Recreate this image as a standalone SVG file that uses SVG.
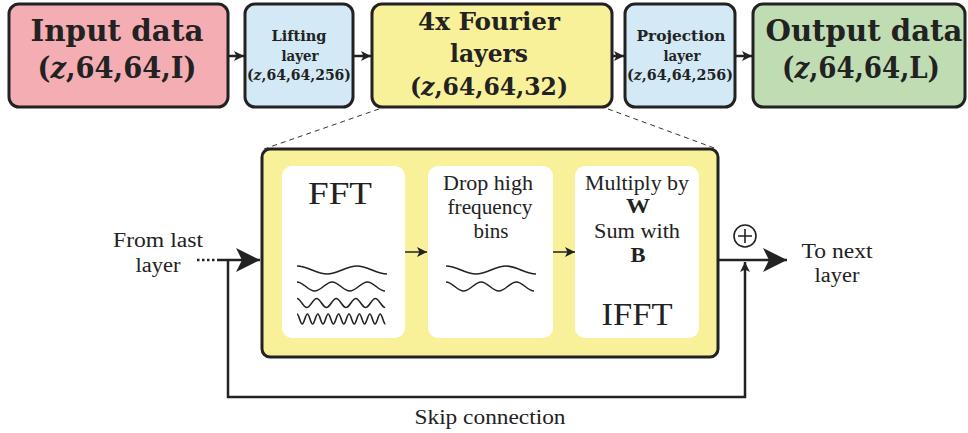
<svg xmlns="http://www.w3.org/2000/svg" width="968" height="433" viewBox="0 0 968 433">
  <style>
    .box { stroke: #222; stroke-width: 3; }
    .inner { fill: #ffffff; }
    .bold { font-family: "DejaVu Serif", "Liberation Serif", serif; font-weight: bold; fill: #222; text-anchor: middle; }
    .reg { font-family: "Liberation Serif", "DejaVu Serif", serif; fill: #222; text-anchor: middle; font-size: 20px; }
    .reg.big { font-size: 31.5px; }
    .reg.strong { font-weight: bold; }
    .wave { fill: none; stroke: #222; stroke-width: 1.6; }
    .link { fill: none; stroke: #222; stroke-width: 2.5; }
    .thin { fill: none; stroke: #222; stroke-width: 1.5; }
    .dash { fill: none; stroke: #333; stroke-width: 1; stroke-dasharray: 5 4; }
  </style>
  <defs>
    <marker id="headBig" viewBox="0 0 24 24" refX="24" refY="12" markerWidth="24" markerHeight="24" markerUnits="userSpaceOnUse" orient="auto">
      <path d="M0,0 L24,12 L0,24 L6,12 Z" fill="#222"/>
    </marker>
    <marker id="headSmall" viewBox="0 0 10 10" refX="10" refY="5" markerWidth="10" markerHeight="10" markerUnits="userSpaceOnUse" orient="auto">
      <path d="M0,0 L10,5 L0,10 L2.5,5 Z" fill="#222"/>
    </marker>
    <path id="w1" class="wave" d="M297,266 C307.9,266 316.1,274 327,274 S346.1,266 357,266 S376.1,274 387,274"/>
    <path id="w2" class="wave" d="M297,282 C303.41,282 308.19,291 314.6,291 S325.79,282 332.2,282 S343.39,291 349.8,291 S360.99,282 367.4,282 S378.59,291 385,291"/>
  </defs>

  <!-- pipeline stages -->
  <g id="input-data">
    <rect class="box" x="9" y="4" width="219" height="103" rx="10" fill="#f4adb3"/>
    <text class="bold" x="117" y="41" font-size="29" textLength="173" lengthAdjust="spacingAndGlyphs">Input data</text>
    <text class="bold" x="117" y="78" font-size="29" textLength="159" lengthAdjust="spacingAndGlyphs">(<tspan font-style="italic">z</tspan>,64,64,I)</text>
  </g>
  <g id="lifting-layer">
    <rect class="box" x="245" y="4" width="108" height="103" rx="10" fill="#d3e9f6"/>
    <text class="bold" x="299" y="41" font-size="14.5" textLength="55" lengthAdjust="spacingAndGlyphs">Lifting</text>
    <text class="bold" x="300" y="61" font-size="15" textLength="37" lengthAdjust="spacingAndGlyphs">layer</text>
    <text class="bold" x="299" y="80" font-size="14" textLength="104" lengthAdjust="spacingAndGlyphs">(<tspan font-style="italic">z</tspan>,64,64,256)</text>
  </g>
  <g id="fourier-layers">
    <rect class="box" x="372" y="4" width="240" height="103" rx="10" fill="#f9f19a"/>
    <text class="bold" x="489" y="30" font-size="25" textLength="142" lengthAdjust="spacingAndGlyphs">4x Fourier</text>
    <text class="bold" x="489" y="62" font-size="25" textLength="78" lengthAdjust="spacingAndGlyphs">layers</text>
    <text class="bold" x="489" y="95" font-size="25" textLength="158" lengthAdjust="spacingAndGlyphs">(<tspan font-style="italic">z</tspan>,64,64,32)</text>
  </g>
  <g id="projection-layer">
    <rect class="box" x="625" y="4" width="110" height="103" rx="10" fill="#d3e9f6"/>
    <text class="bold" x="681" y="41" font-size="14.5" textLength="89" lengthAdjust="spacingAndGlyphs">Projection</text>
    <text class="bold" x="682" y="61" font-size="15" textLength="37" lengthAdjust="spacingAndGlyphs">layer</text>
    <text class="bold" x="680" y="80" font-size="14" textLength="106" lengthAdjust="spacingAndGlyphs">(<tspan font-style="italic">z</tspan>,64,64,256)</text>
  </g>
  <g id="output-data">
    <rect class="box" x="753" y="4" width="212" height="103" rx="10" fill="#c0dcb2"/>
    <text class="bold" x="864" y="41" font-size="29" textLength="197" lengthAdjust="spacingAndGlyphs">Output data</text>
    <text class="bold" x="861" y="78" font-size="29" textLength="158" lengthAdjust="spacingAndGlyphs">(<tspan font-style="italic">z</tspan>,64,64,L)</text>
  </g>

  <!-- expanded view of one Fourier layer -->
  <g id="fourier-layer-detail">
    <rect class="box" x="262" y="149" width="456" height="208" rx="8" fill="#f9f19a"/>
  </g>
  <g id="fft">
    <rect class="inner" x="282" y="166" width="123" height="172" rx="10"/>
    <text class="reg big" x="340" y="204" textLength="64" lengthAdjust="spacingAndGlyphs">FFT</text>
    <use href="#w1"/>
    <use href="#w2"/>
    <path class="wave" d="M297,298.5 C300.57,298.5 303.03,307.5 306.8,307.5 S313.03,298.5 316.6,298.5 S322.83,307.5 326.4,307.5 S332.63,298.5 336.2,298.5 S342.43,307.5 346,307.5 S352.23,298.5 355.8,298.5 S362.03,307.5 365.6,307.5 S371.83,298.5 375.4,298.5 S381.63,307.5 385.2,307.5"/>
    <path class="wave" d="M297,314 C298.89,314 300.31,324 302.2,324 S305.51,314 307.4,314 S310.71,324 312.6,324 S315.91,314 317.8,314 S321.11,324 323,324 S326.31,314 328.2,314 S331.51,324 333.4,324 S336.71,314 338.6,314 S341.91,324 343.8,324 S347.11,314 349,314 S352.31,324 354.2,324 S357.51,314 359.4,314 S362.71,324 364.6,324 S367.91,314 369.8,314 S373.11,324 375,324 S378.31,314 380.2,314 S383.51,324 385.4,324"/>
  </g>
  <g id="drop-bins">
    <rect class="inner" x="428" y="166" width="125" height="172" rx="10"/>
    <text class="reg" x="488" y="190" textLength="90" lengthAdjust="spacingAndGlyphs">Drop high</text>
    <text class="reg" x="490" y="214" textLength="85" lengthAdjust="spacingAndGlyphs">frequency</text>
    <text class="reg" x="491" y="238" textLength="35" lengthAdjust="spacingAndGlyphs">bins</text>
    <use href="#w1" transform="translate(149,0)"/>
    <use href="#w2" transform="translate(149,0)"/>
  </g>
  <g id="multiply-ifft">
    <rect class="inner" x="575" y="166" width="124" height="172" rx="10"/>
    <text class="reg" x="637" y="190" textLength="104" lengthAdjust="spacingAndGlyphs">Multiply by</text>
    <text class="reg strong" x="638" y="213" textLength="24" lengthAdjust="spacingAndGlyphs">W</text>
    <text class="reg" x="637" y="238" textLength="86" lengthAdjust="spacingAndGlyphs">Sum with</text>
    <text class="reg strong" x="638" y="262" textLength="15" lengthAdjust="spacingAndGlyphs">B</text>
    <text class="reg big" x="637" y="325" textLength="71" lengthAdjust="spacingAndGlyphs">IFFT</text>
  </g>
  <g id="sum-node">
    <circle cx="745" cy="236" r="11" fill="none" stroke="#222" stroke-width="1.6"/>
    <path d="M738,236 H752 M745,229 V243" stroke="#222" stroke-width="1.6" fill="none"/>
  </g>

  <!-- free labels -->
  <g id="labels">
    <text class="reg" x="158" y="247" textLength="90" lengthAdjust="spacingAndGlyphs">From last</text>
    <text class="reg" x="158" y="272" textLength="45" lengthAdjust="spacingAndGlyphs">layer</text>
    <text class="reg" x="837" y="258" textLength="71" lengthAdjust="spacingAndGlyphs">To next</text>
    <text class="reg" x="837" y="282" textLength="45" lengthAdjust="spacingAndGlyphs">layer</text>
    <text class="reg" x="490" y="424" textLength="151" lengthAdjust="spacingAndGlyphs">Skip connection</text>
  </g>

  <g id="connectors">
    <!-- top pipeline -->
    <line class="link" x1="229" y1="56" x2="244" y2="56" marker-end="url(#headSmall)"/>
    <line class="link" x1="354" y1="56" x2="371" y2="56" marker-end="url(#headSmall)"/>
    <line class="link" x1="613" y1="56" x2="624" y2="56" marker-end="url(#headSmall)"/>
    <line class="link" x1="736" y1="56" x2="752" y2="56" marker-end="url(#headSmall)"/>
    <!-- zoom guides -->
    <line class="dash" x1="379" y1="109" x2="264" y2="149"/>
    <line class="dash" x1="608" y1="109" x2="717" y2="149"/>
    <!-- inside the layer -->
    <line class="thin" x1="405" y1="252" x2="427" y2="252" marker-end="url(#headSmall)"/>
    <line class="thin" x1="553" y1="252" x2="575" y2="252" marker-end="url(#headSmall)"/>
    <!-- main path -->
    <line class="link" x1="197" y1="260" x2="217" y2="260" stroke-dasharray="2.5 2.5"/>
    <line class="link" x1="217" y1="260" x2="260" y2="260" marker-end="url(#headBig)"/>
    <line class="link" x1="718" y1="260" x2="787" y2="260" marker-end="url(#headBig)"/>
    <!-- skip connection -->
    <path class="link" d="M228,260 V397 H745 V262" marker-end="url(#headSmall)"/>
  </g>
</svg>
